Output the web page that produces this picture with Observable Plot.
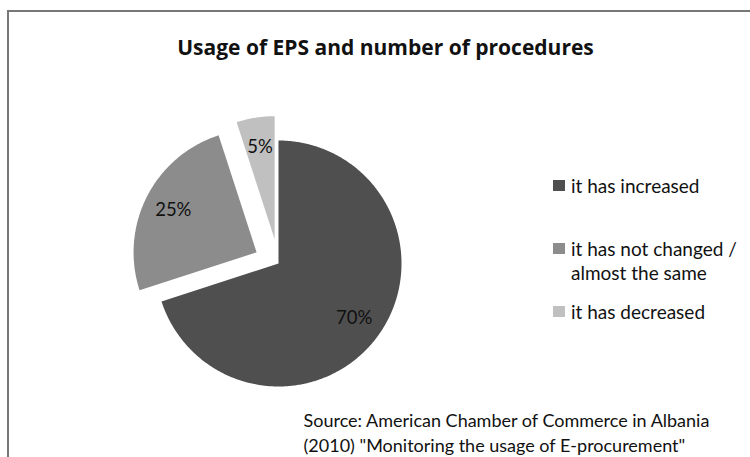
<!DOCTYPE html>
<html>
<head>
<meta charset="utf-8">
<script src="https://cdn.jsdelivr.net/npm/d3@7"></script>
<script src="https://cdn.jsdelivr.net/npm/@observablehq/plot@0.6"></script>
<style>
  html, body { margin: 0; padding: 0; background: #fff; }
  #wrap { position: relative; width: 750px; height: 457px; overflow: hidden; font-family: Lato, sans-serif; }
  #border { position: absolute; left: 7px; top: 10px; width: 800px; height: 500px;
            border-left: 2px solid #777; border-top: 2px solid #777; }
  #chart { position: absolute; left: 0; top: 0; }
  #legend { position: absolute; left: 553px; top: 174px; width: 195px; color: #111; font-size: 19px; }
  .item { display: flex; align-items: flex-start; line-height: 24px; }
  .sw { width: 12px; height: 11px; margin-top: 6px; margin-right: 6px; flex: none; }
</style>
</head>
<body>
<div id="wrap">
  <div id="border"></div>
  <div id="chart"></div>
  <div id="legend"></div>
</div>
<script>
// ---- data ----
const categories = ["it has increased", "it has not changed / almost the same", "it has decreased"];
const values = [70, 25, 5];
const labels = ["70%", "25%", "5%"];
const legendLines = [["it has increased"], ["it has not changed /", "almost the same"], ["it has decreased"]];

// ---- style ----
const colors = ["#4f4f4f", "#8c8c8c", "#c0c0c0"];
const explode = [0, 0.2, 0.2];
const labelRadius = 0.76;

const pie = d3.pie().sort(null).value(d => d.value)(categories.map((c, i) => ({cat: c, value: values[i], i})));

const slicePts = [];
const labelPts = [];
pie.forEach(a => {
  const i = a.data.i;
  const mid = (a.startAngle + a.endAngle) / 2;
  const ox = explode[i] * Math.sin(mid), oy = explode[i] * Math.cos(mid);
  const n = Math.max(4, Math.ceil((a.endAngle - a.startAngle) / 0.01));
  slicePts.push({cat: a.data.cat, x: ox, y: oy});
  for (let k = 0; k <= n; k++) {
    const t = a.startAngle + (a.endAngle - a.startAngle) * k / n;
    slicePts.push({cat: a.data.cat, x: ox + Math.sin(t), y: oy + Math.cos(t)});
  }
  slicePts.push({cat: a.data.cat, x: ox, y: oy});
  labelPts.push({x: ox + labelRadius * Math.sin(mid), y: oy + labelRadius * Math.cos(mid), text: labels[i]});
});

const cx = 278, cy = 263, r = 123;
const source = 'Source: American Chamber of Commerce in Albania\n(2010) "Monitoring the usage of E-procurement"';
const title = "Usage of EPS and number of procedures";

const plot = Plot.plot({
  width: 750, height: 457,
  margin: 0,
  x: {domain: [-1, 1], range: [cx - r, cx + r], axis: null},
  y: {domain: [-1, 1], range: [cy + r, cy - r], axis: null},
  color: {domain: categories, range: colors},
  style: {fontFamily: "Lato, sans-serif", background: "transparent"},
  marks: [
    Plot.line(slicePts, {x: "x", y: "y", z: "cat", fill: "cat", stroke: "none", curve: "linear"}),
    Plot.text(labelPts, {x: "x", y: "y", text: "text", fontSize: 18.5, fill: "#111"}),
    Plot.text([title], {frameAnchor: "top", dx: 10, dy: 40, fontSize: 21, fontWeight: "bold", fontFamily: "'Open Sans', sans-serif", fill: "#111"}),
    Plot.text([source], {frameAnchor: "top-left", dx: 303, dy: 409, textAnchor: "start", lineAnchor: "top", lineHeight: 1.38, fontSize: 18, fill: "#111"})
  ]
});
document.getElementById("chart").appendChild(plot);

// legend
const leg = document.getElementById("legend");
const gaps = [0, 39, 15];
categories.forEach((c, i) => {
  const it = document.createElement("div");
  it.className = "item";
  it.style.marginTop = gaps[i] + "px";
  const sw = document.createElement("div");
  sw.className = "sw";
  sw.style.background = colors[i];
  const tx = document.createElement("div");
  tx.innerHTML = legendLines[i].join("<br>");
  it.appendChild(sw); it.appendChild(tx);
  leg.appendChild(it);
});
</script>
</body>
</html>
